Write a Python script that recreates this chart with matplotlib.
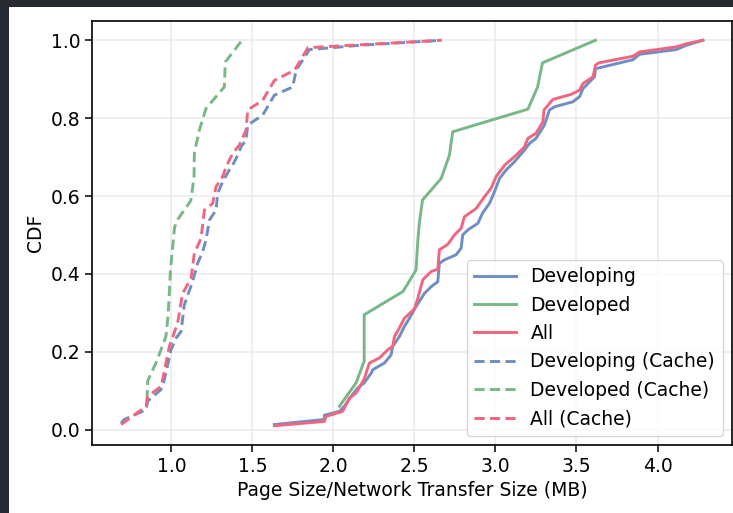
import matplotlib
matplotlib.use('Agg')
import matplotlib.pyplot as plt
from matplotlib.patches import Rectangle

# page size / network transfer size (MB) and CDF
developing_x = [1.636, 1.944, 1.944, 2.037, 2.068, 2.109, 2.15, 2.19, 2.233, 2.243, 2.315,
                2.356, 2.366, 2.407, 2.438, 2.469, 2.51, 2.562, 2.603, 2.644, 2.654, 2.685,
                2.757, 2.788, 2.798, 2.83, 2.892, 2.92, 2.963, 2.994, 3.025, 3.066, 3.117,
                3.179, 3.21, 3.25, 3.302, 3.333, 3.364, 3.477, 3.519, 3.54, 3.611, 3.617,
                3.848, 3.889, 4.115, 4.177, 4.28]
developing_y = [0.013, 0.026, 0.037, 0.047, 0.06, 0.085, 0.107, 0.12, 0.145, 0.154, 0.171,
                0.192, 0.214, 0.239, 0.265, 0.286, 0.316, 0.35, 0.367, 0.38, 0.427, 0.436,
                0.449, 0.466, 0.5, 0.513, 0.53, 0.556, 0.581, 0.611, 0.645, 0.667, 0.688,
                0.718, 0.735, 0.748, 0.782, 0.821, 0.829, 0.842, 0.855, 0.876, 0.906, 0.927,
                0.95, 0.964, 0.976, 0.987, 1.0]

developed_x = [2.037, 2.14, 2.19, 2.19, 2.43, 2.51, 2.52, 2.53, 2.55, 2.665, 2.716, 2.736,
               3.20, 3.26, 3.29, 3.617]
developed_y = [0.06, 0.12, 0.176, 0.295, 0.355, 0.41, 0.48, 0.53, 0.59, 0.645, 0.705, 0.765,
               0.823, 0.88, 0.942, 1.0]

all_x = [1.636, 1.944, 1.955, 2.057, 2.099, 2.14, 2.19, 2.222, 2.284, 2.335, 2.366, 2.377,
         2.407, 2.438, 2.5, 2.52, 2.552, 2.603, 2.644, 2.654, 2.706, 2.747, 2.788, 2.809,
         2.881, 2.932, 2.973, 3.004, 3.056, 3.117, 3.179, 3.2, 3.25, 3.292, 3.30, 3.354,
         3.467, 3.519, 3.54, 3.602, 3.617, 3.638, 3.848, 3.889, 4.115, 4.177, 4.28]
all_y = [0.01, 0.021, 0.034, 0.047, 0.081, 0.094, 0.13, 0.171, 0.184, 0.205, 0.214, 0.239,
         0.261, 0.286, 0.31, 0.336, 0.385, 0.406, 0.412, 0.462, 0.476, 0.5, 0.517, 0.547,
         0.568, 0.598, 0.62, 0.65, 0.679, 0.701, 0.726, 0.748, 0.761, 0.79, 0.821, 0.848,
         0.861, 0.872, 0.889, 0.906, 0.936, 0.942, 0.959, 0.97, 0.983, 0.991, 1.0]

developing_cache_x = [0.69, 0.71, 0.844, 0.854, 0.936, 0.957, 0.998, 1.029, 1.06, 1.08, 1.131,
                      1.162, 1.193, 1.214, 1.235, 1.276, 1.286, 1.317, 1.358, 1.378, 1.41,
                      1.43, 1.461, 1.471, 1.564, 1.636, 1.749, 1.77, 1.852, 2.16, 2.67]
developing_cache_y = [0.017, 0.026, 0.051, 0.073, 0.103, 0.128, 0.205, 0.235, 0.252, 0.32,
                      0.38, 0.427, 0.457, 0.487, 0.538, 0.564, 0.607, 0.637, 0.667, 0.679,
                      0.705, 0.726, 0.744, 0.782, 0.808, 0.859, 0.88, 0.923, 0.976, 0.987, 1.0]

developed_cache_x = [0.85, 0.854, 0.91, 0.967, 0.98, 0.988, 0.995, 1.02, 1.04, 1.12, 1.14,
                     1.142, 1.17, 1.214, 1.327, 1.333, 1.436]
developed_cache_y = [0.075, 0.125, 0.176, 0.24, 0.294, 0.353, 0.412, 0.52, 0.54, 0.588, 0.647,
                     0.709, 0.765, 0.825, 0.88, 0.944, 1.0]

all_cache_x = [0.69, 0.844, 0.854, 0.936, 0.946, 0.988, 1.039, 1.07, 1.122, 1.142, 1.183,
               1.204, 1.255, 1.276, 1.317, 1.338, 1.378, 1.42, 1.461, 1.471, 1.564, 1.636,
               1.76, 1.843, 2.665]
all_cache_y = [0.013, 0.06, 0.085, 0.111, 0.128, 0.214, 0.274, 0.35, 0.389, 0.453, 0.491,
               0.564, 0.581, 0.624, 0.65, 0.675, 0.709, 0.731, 0.769, 0.821, 0.846, 0.897,
               0.923, 0.981, 1.0]

blue = '#6f8ec2'
green = '#77b886'
pink = '#f06680'

plt.rcParams['font.family'] = 'DejaVu Sans'
fs = 13.5

fig = plt.figure(figsize=(7.33, 5.13), dpi=100, facecolor='#262a33')
# white canvas inside the dark screenshot border
bg = Rectangle((9 / 733, 0), 1, 1 - 7 / 513, transform=fig.transFigure,
               facecolor='white', edgecolor='none', zorder=-10)
fig.patches.append(bg)

ax = fig.add_axes([92 / 733, 68 / 513, 640 / 733, 424 / 513])
ax.set_facecolor('white')

ax.plot(developing_x, developing_y, color=blue, lw=2.1, label='Developing')
ax.plot(developed_x, developed_y, color=green, lw=2.1, label='Developed')
ax.plot(all_x, all_y, color=pink, lw=2.1, label='All')
ax.plot(developing_cache_x, developing_cache_y, color=blue, lw=2.1, ls=(0, (3.5, 1.8)),
        label='Developing (Cache)')
ax.plot(developed_cache_x, developed_cache_y, color=green, lw=2.1, ls=(0, (3.5, 1.8)),
        label='Developed (Cache)')
ax.plot(all_cache_x, all_cache_y, color=pink, lw=2.1, ls=(0, (3.5, 1.8)), label='All (Cache)')

ax.grid(True, color='#ebebeb', lw=1.2)
ax.set_axisbelow(True)
for s in ax.spines.values():
    s.set_color('black')
    s.set_linewidth(1.2)

ax.set_xticks([1.0, 1.5, 2.0, 2.5, 3.0, 3.5, 4.0])
ax.set_yticks([0.0, 0.2, 0.4, 0.6, 0.8, 1.0])
ax.tick_params(labelsize=fs, length=5, width=1.1)
ax.set_xlabel('Page Size/Network Transfer Size (MB)', fontsize=fs)
ax.set_ylabel('CDF', fontsize=fs)

ax.legend(loc='lower right', fontsize=fs, labelspacing=0.5, handlelength=2.2)

fig.savefig('out.png', dpi=100, facecolor=fig.get_facecolor())
